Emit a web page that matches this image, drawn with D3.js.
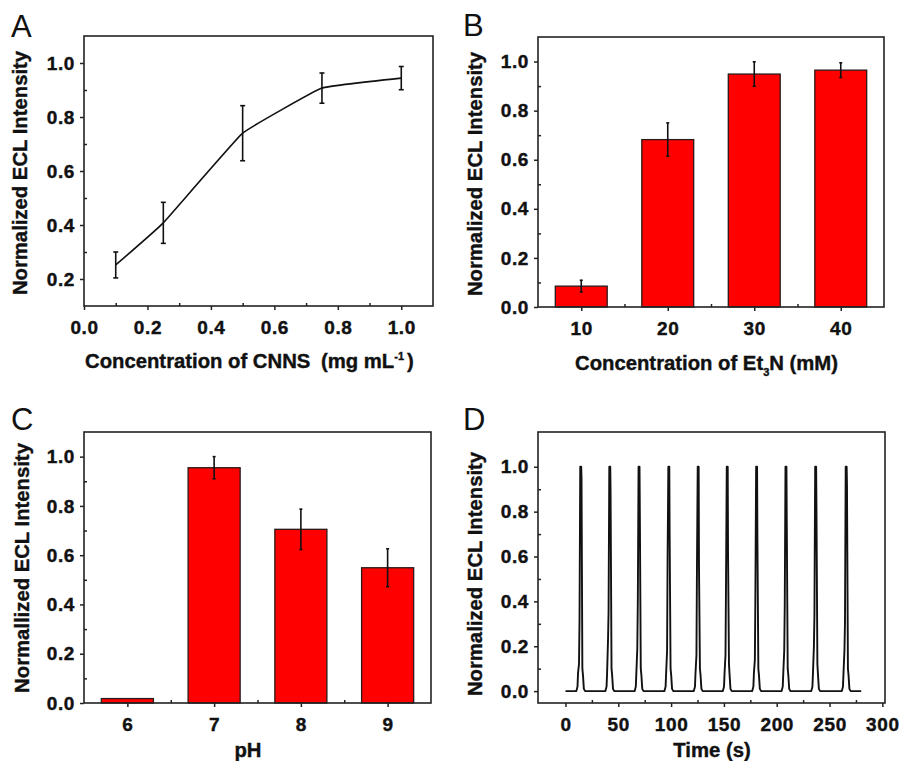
<!DOCTYPE html>
<html>
<head>
<meta charset="utf-8">
<script src="https://cdn.jsdelivr.net/npm/d3@7"></script>
<style>
body { margin: 0; background: #fff; }
svg { display: block; }
text { font-family: "Liberation Sans", Arial, sans-serif; fill: #111; }
.axis text { font-size: 19px; font-weight: bold; letter-spacing: 0.6px; font-family: "Liberation Sans", Arial, sans-serif; fill: #111; stroke: #111; stroke-width: 0.4px; }
.axis line { stroke: #222; stroke-width: 1.5; }
.axis-title { font-size: 20.3px; font-weight: bold; stroke: #111; stroke-width: 0.4px; }
.panel-letter { font-size: 31px; }
.frame { fill: none; stroke: #222; stroke-width: 1.6; }
.bar { fill: #ff0000; stroke: #2a1a1a; stroke-width: 1.3; }
.err { stroke: #111; stroke-width: 1.6; }
.curve { fill: none; stroke: #111; stroke-width: 1.6; }
.trace { fill: none; stroke: #111; stroke-width: 1.9; stroke-linejoin: round; }
</style>
</head>
<body>
<svg width="901" height="761"></svg>
<script>
// A: ECL vs CNNS concentration
var cnnsConc = [0.1, 0.25, 0.5, 0.75, 1.0];
var cnnsIntensity = [0.252, 0.408, 0.74, 0.907, 0.944];
var cnnsError = [0.048, 0.076, 0.102, 0.056, 0.043];

// B: ECL vs Et3N concentration
var et3nConc = [10, 20, 30, 40];
var et3nIntensity = [0.085, 0.682, 0.949, 0.965];
var et3nError = [0.024, 0.068, 0.05, 0.03];

// C: ECL vs pH
var phValues = [6, 7, 8, 9];
var phIntensity = [0.018, 0.955, 0.705, 0.549];
var phError = [0, 0.045, 0.082, 0.077];

// D: ECL stability trace, [time (s), intensity]
var timeTrace = [
    [0, 0],
    [10.3, 0], [11.4, 0.02], [11.9, 0.08], [12.8, 0.12], [13.3, 0.31], [14.0, 1.0], [14.9, 1.0], [15.2, 0.95], [16.0, 0.1], [16.6, 0.07], [17.4, 0.01], [18.6, 0],
    [37.8, 0], [38.9, 0.02], [39.4, 0.08], [40.3, 0.23], [40.8, 0.35], [41.5, 1.0], [42.4, 1.0], [42.7, 0.89], [43.6, 0.1], [44.2, 0.07], [45.0, 0.01], [46.2, 0],
    [65.5, 0], [66.6, 0.02], [67.1, 0.08], [68.0, 0.19], [68.5, 0.4], [69.2, 1.0], [70.1, 1.0], [70.4, 0.8], [71.3, 0.1], [71.9, 0.07], [72.7, 0.01], [73.9, 0],
    [93.7, 0], [94.8, 0.02], [95.3, 0.08], [96.2, 0.18], [96.7, 0.6], [97.4, 1.0], [98.3, 1.0], [98.6, 0.71], [99.5, 0.1], [100.1, 0.07], [100.9, 0.01], [102.1, 0],
    [121.5, 0], [122.6, 0.02], [123.1, 0.08], [124.0, 0.16], [124.5, 0.56], [125.2, 1.0], [126.1, 1.0], [126.4, 0.56], [127.3, 0.1], [127.9, 0.07], [128.7, 0.01], [129.9, 0],
    [149.0, 0], [150.1, 0.02], [150.6, 0.08], [151.5, 0.16], [152.0, 0.49], [152.7, 1.0], [153.6, 1.0], [153.9, 0.62], [154.8, 0.12], [155.4, 0.07], [156.2, 0.01], [157.4, 0],
    [176.8, 0], [177.9, 0.02], [178.4, 0.08], [179.3, 0.14], [179.8, 0.43], [180.5, 1.0], [181.4, 1.0], [181.7, 0.69], [182.6, 0.1], [183.2, 0.07], [184.0, 0.01], [185.2, 0],
    [204.6, 0], [205.7, 0.02], [206.2, 0.08], [207.1, 0.18], [207.6, 0.38], [208.3, 1.0], [209.2, 1.0], [209.5, 0.76], [210.4, 0.1], [211.0, 0.07], [211.8, 0.01], [213.0, 0],
    [232.7, 0], [233.8, 0.02], [234.3, 0.08], [235.2, 0.2], [235.7, 0.34], [236.4, 1.0], [237.3, 1.0], [237.6, 0.83], [238.5, 0.12], [239.1, 0.07], [239.9, 0.01], [241.1, 0],
    [261.6, 0], [262.7, 0.02], [263.2, 0.08], [264.1, 0.18], [264.6, 0.3], [265.3, 1.0], [266.2, 1.0], [266.5, 0.92], [267.4, 0.1], [268.0, 0.07], [268.8, 0.01], [270.0, 0],
    [280, 0]
];

// tick values
var ticksA_x = [0, 0.2, 0.4, 0.6, 0.8, 1.0];
var minorA_x = [0.1, 0.3, 0.5, 0.7, 0.9];
var ticksA_y = [0.2, 0.4, 0.6, 0.8, 1.0];
var minorA_y = [0.3, 0.5, 0.7, 0.9];
var ticksBar_y = [0, 0.2, 0.4, 0.6, 0.8, 1.0];
var minorBar_y = [0.1, 0.3, 0.5, 0.7, 0.9];
var minorB_x = [15, 25, 35];
var minorC_x = [6.5, 7.5, 8.5];
var ticksD_x = [0, 50, 100, 150, 200, 250, 300];
var minorD_x = [25, 75, 125, 175, 225, 275];

const BOXES = {
    A: {left: 84, top: 36, width: 349, height: 270},
    B: {left: 538, top: 37, width: 346, height: 270},
    C: {left: 84, top: 432, width: 347, height: 271},
    D: {left: 538, top: 432, width: 347, height: 271}
};

var svg = d3.select('svg');
var fmt1 = d3.format('.1f');

var createPanel = function (box, xDomain, yDomain) {
    var g = svg.append('g').attr('transform', 'translate(' + box.left + ',' + box.top + ')');
    return {
        g: g,
        box: box,
        x: d3.scaleLinear().domain(xDomain).range([0, box.width]),
        y: d3.scaleLinear().domain(yDomain).range([box.height, 0])
    };
};

var addAxes = function (panel, xTicks, xMinor, xFormat, yTicks, yMinor) {
    var h = panel.box.height;
    panel.g.append('g').attr('class', 'axis').attr('transform', 'translate(0,' + h + ')')
        .call(d3.axisBottom(panel.x).tickValues(xTicks).tickFormat(xFormat).tickSize(4).tickPadding(11));
    panel.g.append('g').attr('class', 'axis').attr('transform', 'translate(0,' + h + ')')
        .call(d3.axisBottom(panel.x).tickValues(xMinor).tickFormat('').tickSize(-3));
    panel.g.append('g').attr('class', 'axis')
        .call(d3.axisLeft(panel.y).tickValues(yTicks).tickFormat(fmt1).tickSize(4).tickPadding(5));
    panel.g.append('g').attr('class', 'axis')
        .call(d3.axisLeft(panel.y).tickValues(yMinor).tickFormat('').tickSize(-3));
    panel.g.selectAll('.domain').remove();
    panel.g.append('rect').attr('class', 'frame')
        .attr('width', panel.box.width).attr('height', h);
};

var addYTitle = function (x, y, label) {
    svg.append('text').attr('class', 'axis-title')
        .attr('text-anchor', 'middle')
        .attr('dy', '0.36em')
        .attr('transform', 'translate(' + x + ',' + y + ') rotate(-90)')
        .text(label);
};

var addLetter = function (x, y, letter) {
    svg.append('text').attr('class', 'panel-letter').attr('x', x).attr('y', y).text(letter);
};

var addErrorBars = function (panel, xs, ys, errs, cap) {
    xs.forEach(function (xv, i) {
        if (!errs[i]) return;
        var cx = panel.x(xv);
        var top = panel.y(ys[i] + errs[i]);
        var bot = panel.y(ys[i] - errs[i]);
        panel.g.append('line').attr('class', 'err')
            .attr('x1', cx).attr('x2', cx).attr('y1', top).attr('y2', bot);
        [top, bot].forEach(function (yy) {
            panel.g.append('line').attr('class', 'err')
                .attr('x1', cx - cap).attr('x2', cx + cap).attr('y1', yy).attr('y2', yy);
        });
    });
};

var addBars = function (panel, xs, ys, halfWidth) {
    panel.g.selectAll('rect.bar')
        .data(xs)
        .enter()
        .append('rect')
        .attr('class', 'bar')
        .attr('x', function (d) { return panel.x(d - halfWidth); })
        .attr('width', function (d) { return panel.x(d + halfWidth) - panel.x(d - halfWidth); })
        .attr('y', function (d, i) { return panel.y(ys[i]); })
        .attr('height', function (d, i) { return panel.y(0) - panel.y(ys[i]); });
};

// ---- Panel A
var pA = createPanel(BOXES.A, [0, 1.1], [0.1, 1.1]);
addAxes(pA, ticksA_x, minorA_x, fmt1, ticksA_y, minorA_y);
pA.g.append('path').attr('class', 'curve')
    .datum(cnnsConc)
    .attr('d', d3.line()
        .x(function (d) { return pA.x(d); })
        .y(function (d, i) { return pA.y(cnnsIntensity[i]); })
        .curve(d3.curveCardinal.tension(0.75)));
addErrorBars(pA, cnnsConc, cnnsIntensity, cnnsError, 2.5);
addYTitle(20, 173, 'Normalized ECL Intensity');
var titleA = svg.append('text').attr('class', 'axis-title').attr('x', 85).attr('y', 368);
titleA.append('tspan').text('Concentration of CNNS ');
titleA.append('tspan').attr('dx', 5).text('(mg mL');
titleA.append('tspan').attr('dy', -8).attr('font-size', '11px').text('-1');
titleA.append('tspan').attr('dy', 8).attr('dx', 3).text(')');
addLetter(11, 37, 'A');

// ---- Panel B
var pB = createPanel(BOXES.B, [5, 45], [0, 1.1]);
addBars(pB, et3nConc, et3nIntensity, 3);
addErrorBars(pB, et3nConc, et3nIntensity, et3nError, 1.5);
addAxes(pB, et3nConc, minorB_x, d3.format('d'), ticksBar_y, minorBar_y);
addYTitle(475, 174, 'Normalized ECL Intensity');
var titleB = svg.append('text').attr('class', 'axis-title').attr('x', 575).attr('y', 370);
titleB.append('tspan').text('Concentration of Et');
titleB.append('tspan').attr('dy', 6).attr('font-size', '11px').text('3');
titleB.append('tspan').attr('dy', -6).text('N (mM)');
addLetter(463, 36, 'B');

// ---- Panel C
var pC = createPanel(BOXES.C, [5.5, 9.5], [0, 1.1]);
addBars(pC, phValues, phIntensity, 0.3);
addErrorBars(pC, phValues, phIntensity, phError, 1.5);
addAxes(pC, phValues, minorC_x, d3.format('d'), ticksBar_y, minorBar_y);
addYTitle(22, 568, 'Normallized ECL Intensity');
svg.append('text').attr('class', 'axis-title').attr('x', 248).attr('y', 757)
    .attr('text-anchor', 'middle').text('pH');
addLetter(11, 430, 'C');

// ---- Panel D
var pD = createPanel(BOXES.D, [-26, 302.5], [-0.053, 1.155]);
addAxes(pD, ticksD_x, minorD_x, d3.format('d'), ticksBar_y, minorBar_y);
pD.g.append('path').attr('class', 'trace')
    .datum(timeTrace)
    .attr('d', d3.line()
        .x(function (d) { return pD.x(d[0]); })
        .y(function (d) { return pD.y(d[1]); }));
addYTitle(475, 574, 'Normalized ECL Intensity');
svg.append('text').attr('class', 'axis-title').attr('x', 712).attr('y', 757)
    .attr('text-anchor', 'middle').text('Time (s)');
addLetter(463, 430, 'D');
</script>
</body>
</html>
